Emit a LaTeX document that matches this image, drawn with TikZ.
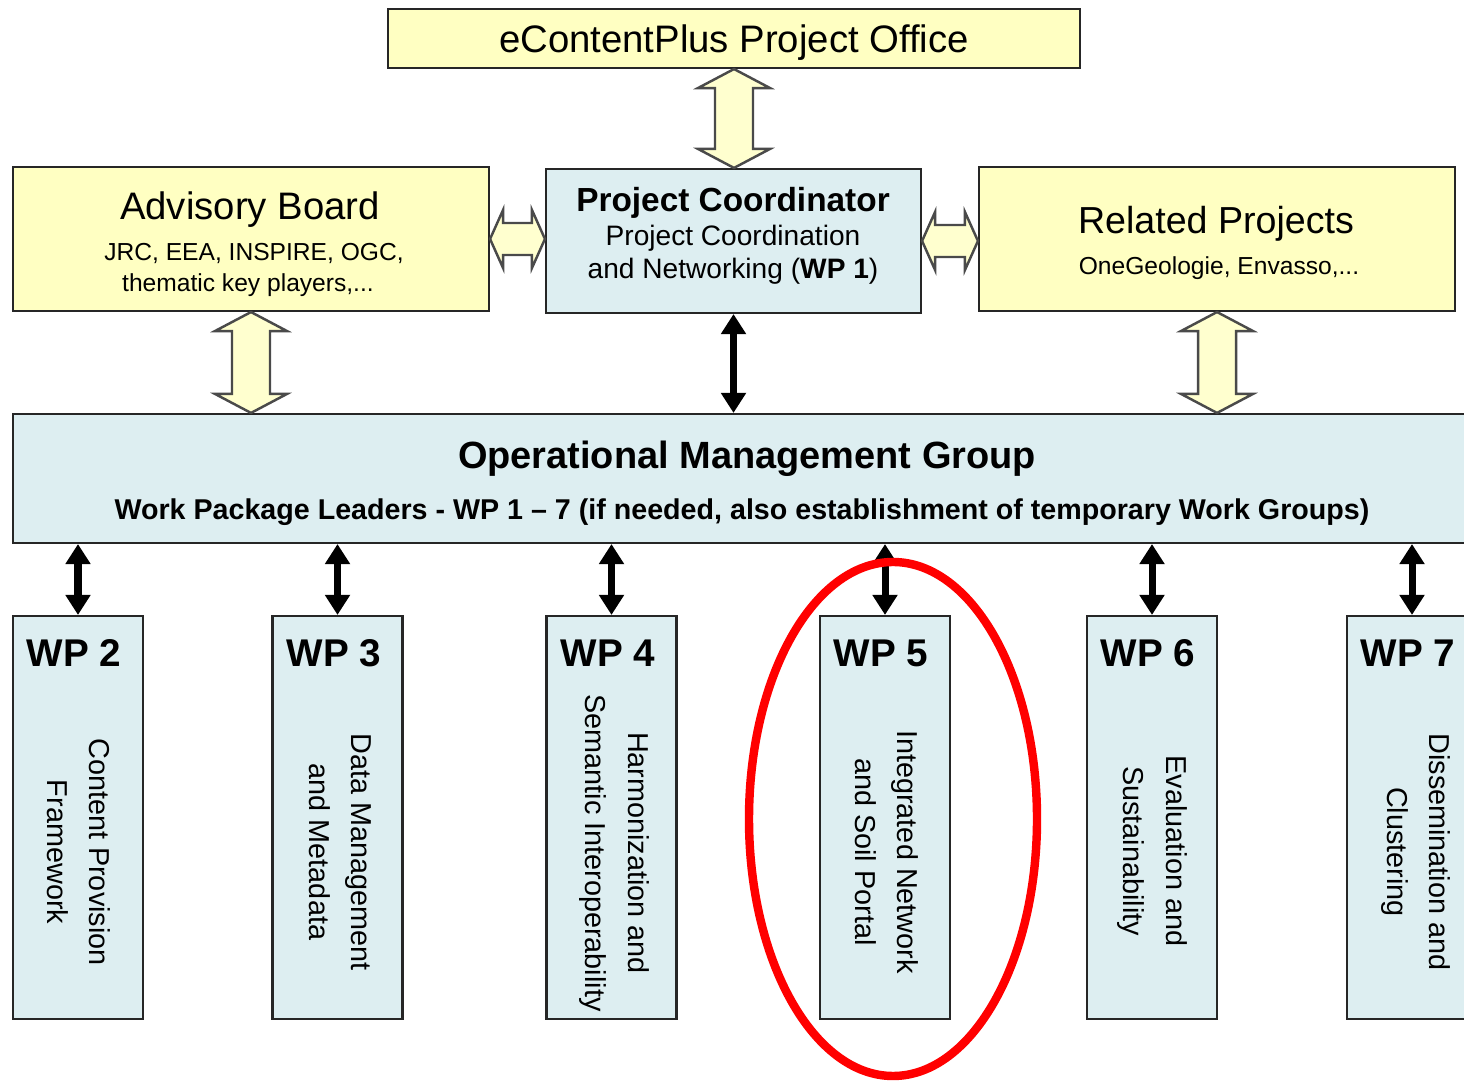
\documentclass[tikz,border=0pt]{standalone}
\usepackage{fontspec}
\setmainfont{Liberation Sans}
\usetikzlibrary{arrows.meta,calc}

\definecolor{boxyellow}{HTML}{FFFFC2}
\definecolor{boxblue}{HTML}{DDEEF1}
\definecolor{arrowfill}{HTML}{FFFFCF}
\definecolor{arrowline}{HTML}{4A4A4A}

\tikzset{
  ybox/.style={draw=black!85, line width=0.6pt, fill=boxyellow, inner sep=0pt},
  bbox/.style={draw=black!85, line width=0.6pt, fill=boxblue, inner sep=0pt},
  wpbox/.style={bbox, minimum width=1.30cm, minimum height=4.03cm},
  link/.style={black, line width=2pt, {Triangle[length=0.2cm,width=0.24cm]}-{Triangle[length=0.2cm,width=0.24cm]}},
  vhollow/.style={draw=arrowline, fill=arrowfill, line width=0.7pt, line join=miter,
    to path={let \p1=(\tikztostart), \p2=(\tikztotarget) in
      (\x1,\y1) -- (\x1+0.36cm,\y1-0.19cm) -- (\x1+0.19cm,\y1-0.19cm) -- (\x1+0.19cm,\y2+0.19cm)
      -- (\x1+0.36cm,\y2+0.19cm) -- (\x1,\y2) -- (\x1-0.36cm,\y2+0.19cm) -- (\x1-0.19cm,\y2+0.19cm)
      -- (\x1-0.19cm,\y1-0.19cm) -- (\x1-0.36cm,\y1-0.19cm) -- cycle}},
  hhollow/.style={draw=arrowline, fill=arrowfill, line width=0.7pt, line join=miter,
    to path={let \p1=(\tikztostart), \p2=(\tikztotarget) in
      (\x1,\y1) -- (\x1+0.13cm,\y1+0.29cm) -- (\x1+0.13cm,\y1+0.16cm) -- (\x2-0.13cm,\y1+0.16cm)
      -- (\x2-0.13cm,\y1+0.29cm) -- (\x2,\y1) -- (\x2-0.13cm,\y1-0.29cm) -- (\x2-0.13cm,\y1-0.16cm)
      -- (\x1+0.13cm,\y1-0.16cm) -- (\x1+0.13cm,\y1-0.29cm) -- cycle}},
  title/.style={font=\fontsize{10.9}{13}\selectfont},
  small/.style={font=\fontsize{7}{9}\selectfont},
  wplabel/.style={font=\fontsize{11}{13}\selectfont\bfseries},
  wptext/.style={rotate=-90, align=center, font=\fontsize{8.2}{12}\selectfont},
}

\begin{document}
\begin{tikzpicture}
    \useasboundingbox (0,0) rectangle (14.64,-10.81);
    \clip (0,0) rectangle (14.64,-10.81);

    %% top row
    \node[ybox, minimum width=6.92cm, minimum height=0.59cm] (office) at (7.34,-0.385) {};
    \node[title] (officetitle) at (7.34,-0.43) {eContentPlus Project Office};

    \node[ybox, minimum width=4.76cm, minimum height=1.44cm] (advisory) at (2.51,-2.39) {};
    \node[title] (advtitle) at (2.50,-2.10) {Advisory Board};
    \node[small] (advsub1) at (2.54,-2.53) {JRC, EEA, INSPIRE, OGC,};
    \node[small] (advsub2) at (2.48,-2.85) {thematic key players,...};

    \node[bbox, minimum width=3.75cm, minimum height=1.44cm] (coord) at (7.335,-2.41) {};
    \node[font=\fontsize{9.5}{11}\selectfont\bfseries] (coordtitle) at (7.33,-2.03) {Project Coordinator};
    \node[font=\fontsize{8}{10}\selectfont] (coordsub1) at (7.33,-2.38) {Project Coordination};
    \node[font=\fontsize{8}{10}\selectfont] (coordsub2) at (7.33,-2.71) {and Networking (\textbf{WP 1})};

    \node[ybox, minimum width=4.76cm, minimum height=1.44cm] (related) at (12.17,-2.39) {};
    \node[font=\fontsize{10.7}{13}\selectfont] (reltitle) at (12.16,-2.24) {Related Projects};
    \node[small] (relsub) at (12.19,-2.68) {OneGeologie, Envasso,...};

    %% management group
    \node[bbox, minimum width=14.64cm, minimum height=1.29cm] (omg) at (7.45,-4.785) {};
    \node[font=\fontsize{10.8}{13}\selectfont\bfseries] (omgtitle) at (7.47,-4.59) {Operational Management Group};
    \node[font=\fontsize{8.15}{10}\selectfont\bfseries] (omgsub) at (7.42,-5.12) {Work Package Leaders - WP 1 -- 7 (if needed, also establishment of temporary Work Groups)};

    %% work packages
    \node[wpbox] (wp2) at (0.78,-8.175) {};
    \node[wpbox] (wp3) at (3.375,-8.175) {};
    \node[wpbox] (wp4) at (6.115,-8.175) {};
    \node[wpbox] (wp5) at (8.85,-8.175) {};
    \node[wpbox] (wp6) at (11.52,-8.175) {};
    \node[wpbox] (wp7) at (14.12,-8.175) {};

    \node[wplabel] at (0.74,-6.53) {WP 2};
    \node[wplabel] at (3.34,-6.53) {WP 3};
    \node[wplabel] at (6.08,-6.53) {WP 4};
    \node[wplabel] at (8.81,-6.53) {WP 5};
    \node[wplabel] at (11.48,-6.53) {WP 6};
    \node[wplabel] at (14.08,-6.53) {WP 7};

    \node[wptext] at (0.79,-8.52) {Content Provision\\Framework};
    \node[wptext] at (3.40,-8.52) {Data Management\\and Metadata};
    \node[wptext] at (6.145,-8.53) {Harmonization and\\Semantic Interoperability};
    \node[wptext] at (8.865,-8.52) {Integrated Network\\and Soil Portal};
    \node[wptext] at (11.525,-8.51) {Evaluation and\\Sustainability};
    \node[wptext] at (14.16,-8.52) {Dissemination and\\Clustering};

    %% hollow arrows
    \draw[vhollow] (office.south) to (coord.north);
    \draw[vhollow] (advisory.south) to (advisory.south |- omg.north);
    \draw[vhollow] (related.south) to (related.south |- omg.north);
    \draw[hhollow] (advisory.east) to (coord.west);
    \draw[hhollow] (coord.east) to (related.west);

    %% black arrows
    \draw[link] (coord.south) -- (coord.south |- omg.north);
    \foreach \wp in {wp2,wp3,wp4,wp5,wp6,wp7}
      \draw[link] (\wp.north |- omg.south) -- (\wp.north);

    %% highlight
    \draw[red, line width=2.4pt] (8.93,-8.19) ellipse [x radius=1.44cm, y radius=2.57cm];

\end{tikzpicture}
\end{document}
